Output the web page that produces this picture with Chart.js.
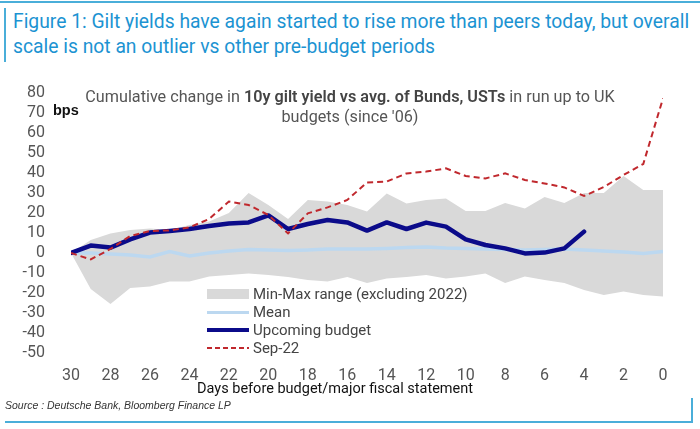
<!DOCTYPE html>
<html>
<head>
<meta charset="utf-8">
<script src="https://cdn.jsdelivr.net/npm/chart.js@4/dist/chart.umd.min.js"></script>
<style>
  html, body { margin: 0; padding: 0; background: #fff; }
  body { width: 700px; height: 429px; position: relative; overflow: hidden; font-family: Roboto, "Liberation Sans", sans-serif; }
  #chart { position: absolute; left: 0; top: 0; }
  .frame-top { position: absolute; left: 0; top: 1px; width: 700px; height: 2px; background: #4aaed9; }
  .frame-left { position: absolute; left: 4px; top: 8px; width: 2px; height: 54px; background: #4aaed9; }
  .frame-bottom { position: absolute; left: 5px; top: 421px; width: 688px; height: 2px; background: #4aaed9; }
  .frame-right { position: absolute; left: 691px; top: 398px; width: 2px; height: 25px; background: #4aaed9; }
  #title { position: absolute; left: 13px; top: 9px; width: 690px; color: #1c93d2; font-size: 19.3px; line-height: 25px; }
  #subtitle { position: absolute; left: 40px; top: 87px; width: 620px; text-align: center; color: #555; font-size: 16.2px; line-height: 20px; }
  #subtitle b { color: #444; font-weight: 600; }
  #bps { position: absolute; left: 53px; top: 102px; font-size: 14.5px; font-weight: bold; color: #111; font-family: "Liberation Sans", sans-serif; }
  #xtitle { position: absolute; left: 197px; top: 380px; font-size: 14.5px; color: #111; }
  #source { position: absolute; left: 5px; top: 399px; font-size: 10.5px; font-style: italic; color: #333; font-family: "Liberation Sans", sans-serif; }
  #legend { position: absolute; left: 207px; top: 285px; font-size: 15px; color: #444; }
  #legend .item { height: 18px; display: flex; align-items: center; }
  #legend .sw { width: 42px; margin-right: 4px; }
</style>
</head>
<body>
<div class="frame-top"></div>
<div class="frame-left"></div>
<div id="title">Figure 1: Gilt yields have again started to rise more than peers today, but overall<br>scale is not an outlier vs other pre-budget periods</div>
<canvas id="chart" width="700" height="429"></canvas>
<div id="subtitle">Cumulative change in <b>10y gilt yield vs avg. of Bunds, USTs</b> in run up to UK<br>budgets (since '06)</div>
<div id="bps">bps</div>
<div id="xtitle">Days before budget/major fiscal statement</div>
<div id="legend"></div>
<div id="source">Source : Deutsche Bank, Bloomberg Finance LP</div>
<div class="frame-bottom"></div>
<div class="frame-right"></div>

<script>
// days before budget, from 30 down to 0
const days = [30, 29, 28, 27, 26, 25, 24, 23, 22, 21, 20, 19, 18, 17, 16, 15, 14, 13, 12, 11, 10, 9, 8, 7, 6, 5, 4, 3, 2, 1, 0];

const rangeMax = [0, 6.5, 9.8, 11.5, 12.3, 11.5, 14, 15.7, 20, 30, 24, 17, 26.5, 25.7, 24, 20.7, 29.8, 24.8, 26.5, 27.3, 21, 21, 25, 22.3, 28, 25, 30, 30, 38.5, 31.5, 31.5];
const rangeMin = [0, -18, -25.5, -17.5, -16.8, -14.3, -14.3, -11.8, -11, -10.2, -11, -12, -13.5, -14.3, -12, -15, -12.8, -12, -11, -12.8, -11.8, -10.2, -15, -11.8, -13.5, -15, -18.5, -21, -19.3, -21, -21.8];
const meanVals = [0, 0, -0.5, -1, -2, 0.7, -1.5, 0, 1, 1.8, 1.5, 1.2, 1.5, 2, 2, 2, 2.3, 2.7, 3, 2.5, 2.3, 2, 1.8, 1.5, 1.8, 2, 1.5, 1, 0.5, -0.3, 0.7];
const upcoming = [0, 3.7, 2.7, 6.8, 10.2, 11, 12, 13.5, 14.8, 15.3, 18.8, 12, 14.5, 16.5, 15.3, 11.2, 15.3, 12, 15.2, 13.2, 6.8, 4, 2.3, -0.2, 0.2, 2.3, 10.7];
const sep22 = [0, -3.2, 2, 8.5, 11, 11.3, 12.8, 17, 25.7, 24, 19, 9.8, 19.8, 22.8, 26.5, 35.3, 35.7, 39.8, 40.7, 42.3, 38.5, 37.3, 39.8, 36.5, 34.8, 32.8, 28.5, 33, 39, 44.5, 77.3];

const yTicks = [80, 70, 60, 50, 40, 30, 20, 10, 0, -10, -20, -30, -40, -50];

const labels = ['Min-Max range (excluding 2022)', 'Mean', 'Upcoming budget', 'Sep-22'];

function pts(vals) {
    return vals.map((v, i) => ({x: days[i], y: v}));
}

const grey = '#d9d9d9';
const lightBlue = '#bcd8f0';
const navy = '#0b0b8a';
const red = '#c0282d';

const ctx = document.getElementById('chart').getContext('2d');
const chart = new Chart(ctx, {
    type: 'line',
    data: {
        datasets: [
            {label: 'min', data: pts(rangeMin), borderWidth: 0, pointRadius: 0, fill: false, order: 5, borderColor: grey},
            {label: labels[0], data: pts(rangeMax), borderWidth: 0, pointRadius: 0, fill: 0, backgroundColor: grey, borderColor: grey, order: 4},
            {label: labels[1], data: pts(meanVals), borderColor: lightBlue, borderWidth: 3.5, pointRadius: 0, order: 3},
            {label: labels[2], data: pts(upcoming), borderColor: navy, borderWidth: 4.5, pointRadius: 0, order: 2, borderJoinStyle: 'round', borderCapStyle: 'round'},
            {label: labels[3], data: pts(sep22), borderColor: red, borderWidth: 2, borderDash: [6, 4], pointRadius: 0, order: 1}
        ]
    },
    options: {
        responsive: false,
        animation: false,
        layout: {padding: {left: 0, top: 93, right: 37, bottom: 0}},
        plugins: {legend: {display: false}, tooltip: {enabled: false}},
        elements: {line: {tension: 0}},
        scales: {
            x: {
                type: 'linear',
                reverse: true,
                min: 0,
                max: 30,
                grid: {display: false, drawTicks: false},
                border: {display: false},
                afterFit: (s) => { s.height = 76; },
                afterBuildTicks: (s) => { s.ticks = days.filter(d => d % 2 === 0).map(d => ({value: d})); },
                ticks: {padding: 13, color: '#555', font: {size: 16, family: 'Roboto'}, maxRotation: 0, autoSkip: false}
            },
            y: {
                min: -50,
                max: 80,
                grid: {display: false, drawTicks: false},
                border: {display: false},
                afterFit: (s) => { s.width = 71; },
                afterBuildTicks: (s) => { s.ticks = yTicks.map(v => ({value: v})); },
                ticks: {padding: 26, color: '#555', font: {size: 16, family: 'Roboto'}, autoSkip: false}
            }
        }
    }
});

// html legend
const swatches = [
    '<div class="sw" style="height:10px;background:' + grey + '"></div>',
    '<div class="sw" style="height:3px;background:' + lightBlue + '"></div>',
    '<div class="sw" style="height:4px;background:' + navy + '"></div>',
    '<div class="sw" style="height:2px;background:repeating-linear-gradient(90deg,' + red + ' 0 5px,transparent 5px 8px)"></div>'
];
document.getElementById('legend').innerHTML = labels.map((l, i) =>
    '<div class="item">' + swatches[i] + '<span>' + l + '</span></div>').join('');
</script>
</body>
</html>
